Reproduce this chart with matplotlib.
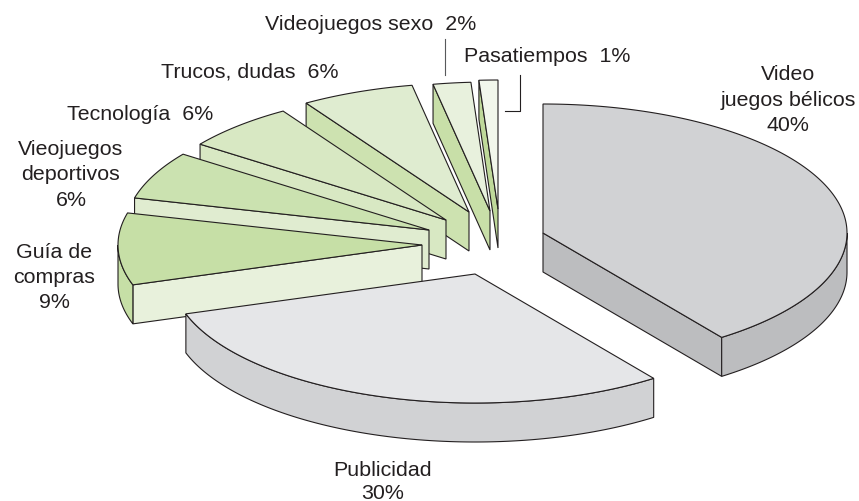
import numpy as np
import matplotlib
matplotlib.use('Agg')
import matplotlib.pyplot as plt
from matplotlib.patches import Polygon

plt.rcParams['font.family'] = ['Liberation Sans', 'DejaVu Sans']

# clockwise from 12 o'clock
names = ['Video juegos bélicos', 'Publicidad', 'Guía de compras', 'Vieojuegos deportivos',
         'Tecnología', 'Trucos, dudas', 'Videojuegos sexo', 'Pasatiempos']
values = [40, 30, 9, 6, 6, 6, 2, 1]

# where each exploded slice has its tip, in pixels
tip_x = [543, 475, 422, 429, 446, 469, 490, 498]
tip_y = [234, 275, 246, 231, 221, 213, 212, 210]

top_colors = ['#d1d2d4', '#e5e6e8', '#c6dfa6', '#cbe2b0', '#d8e8c3', '#dfecd0', '#e8f1dd', '#f2f7ec']
wall_colors = ['#bcbdbf', '#d1d2d4', '#c6dfa6', '#cbe2b0', '#d8e8c3', '#dfecd0', '#e8f1dd', '#f2f7ec']
edge_colors = ['#bcbdbf', '#d1d2d4', '#e8f1dc', '#e0ecd0', '#d8e8c3', '#cde2b0', '#c8dfa8', '#bfd99a']

RX = 304
RY = 129
DEPTH = 39
INK = '#231f20'


def rim(cx, cy, a0, a1):
    a = np.radians(np.linspace(a0, a1, max(int(abs(a1 - a0)) * 2, 2)))
    return np.column_stack([cx + RX * np.sin(a), cy - RY * np.cos(a)])


def face(ax, pts, color, z):
    ax.add_patch(Polygon(pts, closed=True, facecolor=color, edgecolor=INK,
                         linewidth=0.8, joinstyle='miter', zorder=z))


fig = plt.figure(figsize=(8.59, 5.02), dpi=100)
ax = fig.add_axes([0, 0, 1, 1])
ax.set_xlim(0, 859)
ax.set_ylim(502, 0)
ax.axis('off')

ends = np.cumsum(values) * 3.6
starts = ends - np.array(values) * 3.6
down = np.array([0, DEPTH])

# back slices first, Publicidad sits over Guia de compras
order = [7, 6, 5, 4, 3, 2, 0, 1]
for z, i in enumerate(order):
    cx, cy = tip_x[i], tip_y[i]
    a0, a1 = starts[i], ends[i]
    tip = np.array([cx, cy])
    base = 10 + z * 3

    # cut face that looks at the viewer
    if a0 >= 180:
        p = rim(cx, cy, a0, a0)[0]
    elif a1 <= 180:
        p = rim(cx, cy, a1, a1)[0]
    else:
        p = None
    if p is not None:
        face(ax, [p, tip, tip + down, p + down], edge_colors[i], base)

    # outer wall, only the front half of the ellipse shows
    w0, w1 = max(a0, 90), min(a1, 270)
    if w1 > w0:
        arc = rim(cx, cy, w0, w1)
        face(ax, np.vstack([arc, arc[::-1] + down]), wall_colors[i], base + 1)

    face(ax, np.vstack([tip, rim(cx, cy, a0, a1)]), top_colors[i], base + 2)

# leader lines
ax.plot([445, 445], [40, 76], color='#58595b', lw=0.8, zorder=40)
ax.plot([520, 520, 505], [76, 112, 112], color=INK, lw=0.8, zorder=40)

FS = 15.4
txt = dict(fontsize=FS, color=INK, va='baseline', zorder=50)
centered = [('Video', 788, 80), ('juegos bélicos', 788, 106), ('40%', 788, 131),
            ('Publicidad', 383, 476), ('30%', 383, 499),
            ('Guía de', 54, 258), ('compras', 54, 283), ('9%', 54, 308),
            ('Vieojuegos', 71, 155), ('deportivos', 71, 180), ('6%', 71, 206)]
for s, x, y in centered:
    ax.text(x, y, s, ha='center', **txt)
ax.text(67, 120, 'Tecnología  6%', ha='left', **txt)
ax.text(161, 77, 'Trucos, dudas  6%', ha='left', **txt)
ax.text(265, 30, 'Videojuegos sexo  2%', ha='left', **txt)
ax.text(464, 62, 'Pasatiempos  1%', ha='left', **txt)

fig.savefig('out.png', dpi=100)
